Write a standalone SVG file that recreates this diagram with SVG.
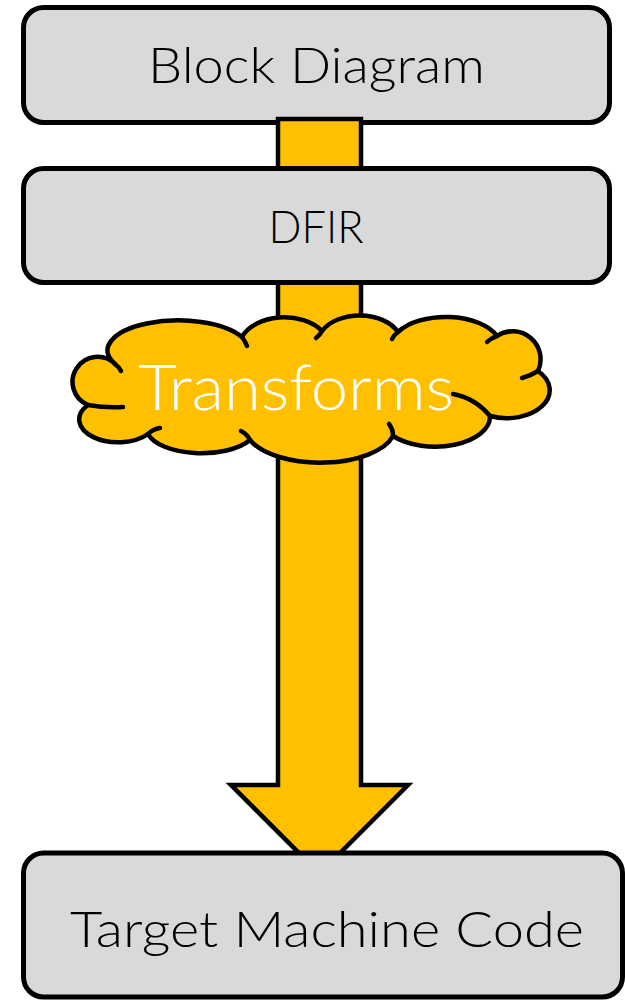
<svg xmlns="http://www.w3.org/2000/svg" width="625" height="1000" viewBox="0 0 625 1000">
  <style>
    .box { fill: #d9d9d9; stroke: #000; stroke-width: 5; }
    .flow { fill: #ffc000; stroke: #000; stroke-width: 4.5; stroke-linejoin: miter; }
    .lbl { font-family: Lato, "Liberation Sans", Arial, sans-serif; font-weight: 300; fill: #000; text-anchor: middle; }
    .cloud { fill: #ffc000; stroke: #000; stroke-width: 4.5; stroke-linejoin: round; }
    .crease { fill: none; stroke: #000; stroke-width: 4.5; stroke-linecap: round; }
  </style>

  <g id="block-diagram">
    <rect class="box" x="23.5" y="7.5" width="586" height="115" rx="20"/>
    <text class="lbl" x="316.5" y="83" font-size="50" textLength="337" lengthAdjust="spacingAndGlyphs">Block Diagram</text>
  </g>

  <!-- big downward flow arrow -->
  <g id="connectors">
    <polygon class="flow" points="278,119 361,119 361,785 408,785 319.5,873.5 231,785 278,785"/>
  </g>

  <g id="dfir">
    <rect class="box" x="23.5" y="168.5" width="586" height="114" rx="20"/>
    <text class="lbl" x="316" y="243" font-size="46" textLength="95" lengthAdjust="spacingAndGlyphs">DFIR</text>
  </g>

  <g id="transforms">
    <path class="cloud" d="M115,364
      A66,28 0 0 1 242,337
      A45,30 0 0 1 322,331
      A42,28 0 0 1 398,332
      A55,30 0 0 1 497,336
      A28,28 0 0 1 538,371
      A43,28 0 0 1 490,416
      A55,30 0 0 1 393,436
      A75,35 0 0 1 250,440
      A55,25 0 0 1 148,434
      A34,20 0 0 1 88,405
      A25,25 0 1 1 115,364 Z"/>
    <path class="crease" d="M115,364 q4,3 6,7"/>
    <path class="crease" d="M242,337 q3,4 5,9"/>
    <path class="crease" d="M322,331 q-2,4 -6,7"/>
    <path class="crease" d="M398,332 q-4,3 -6,7"/>
    <path class="crease" d="M497,336 q-6,2 -10,6"/>
    <path class="crease" d="M538,371 Q530,376 522,378"/>
    <path class="crease" d="M490,416 Q475,398 453,394"/>
    <path class="crease" d="M393,436 q0,-7 -4,-12"/>
    <path class="crease" d="M250,440 q-3,-6 -9,-9"/>
    <path class="crease" d="M148,434 q5,-5 12,-6"/>
    <path class="crease" d="M88,405 Q105,408 123,407"/>
    <text x="296" y="410" font-family="Lato, 'Liberation Sans', Arial, sans-serif" font-weight="300" font-size="64" fill="#fff" text-anchor="middle" textLength="316" lengthAdjust="spacingAndGlyphs">Transforms</text>
  </g>

  <g id="target-machine-code">
    <rect class="box" x="23.5" y="853" width="599" height="144" rx="20"/>
    <text class="lbl" x="327" y="947" font-size="49" textLength="514" lengthAdjust="spacingAndGlyphs">Target Machine Code</text>
  </g>
</svg>
